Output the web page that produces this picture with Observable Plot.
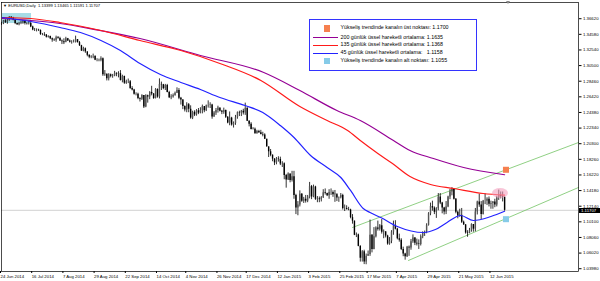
<!DOCTYPE html>
<html><head><meta charset="utf-8">
<script src="https://cdn.jsdelivr.net/npm/d3@7"></script>
<script src="https://cdn.jsdelivr.net/npm/@observablehq/plot@0.6"></script>
<style>
html,body{margin:0;padding:0;background:#fff;}
#wrap{position:relative;width:600px;height:281px;overflow:hidden;font-family:"Liberation Sans",Arial,sans-serif;}
#wrap svg{position:absolute;left:0;top:0;}
.ov{position:absolute;white-space:pre;line-height:1;color:#000;}
</style></head><body><div id="wrap"></div>
<script>
// ---- Daily EURUSD bars, 24 Jun 2014 .. 23 Jun 2015 (one value per bar) ----
const firstOpen = 1.3600;
const closes = [
1.3604,1.3645,1.3625,1.3645,1.3690,1.3680,1.3655,1.3610,1.3595,1.3610,
1.3615,1.3640,1.3610,1.3605,1.3610,1.3565,1.3525,1.3525,1.3525,1.3520,
1.3465,1.3465,1.3460,1.3430,1.3440,1.3410,1.3395,1.3390,1.3425,1.3415,
1.3380,1.3370,1.3360,1.3410,1.3380,1.3365,1.3365,1.3365,1.3400,1.3360,
1.3320,1.3250,1.3280,1.3240,1.3195,1.3170,1.3175,1.3180,1.3130,1.3130,
1.3130,1.3150,1.2940,1.2950,1.2890,1.2940,1.2920,1.2925,1.2960,1.2950,
1.2955,1.2865,1.2920,1.2830,1.2850,1.2850,1.2760,1.2740,1.2685,1.2685,
1.2630,1.2620,1.2670,1.2520,1.2665,1.2650,1.2710,1.2690,1.2630,1.2750,
1.2650,1.2815,1.2810,1.2760,1.2800,1.2710,1.2640,1.2650,1.2670,1.2700,
1.2735,1.2635,1.2610,1.2525,1.2480,1.2550,1.2490,1.2375,1.2450,1.2415,
1.2470,1.2440,1.2475,1.2525,1.2470,1.2535,1.2540,1.2545,1.2390,1.2440,
1.2475,1.2505,1.2465,1.2450,1.2475,1.2385,1.2310,1.2375,1.2285,1.2305,
1.2380,1.2445,1.2440,1.2465,1.2440,1.2500,1.2335,1.2295,1.2225,1.2230,
1.2170,1.2200,1.2185,1.2160,1.2155,1.2100,1.2000,1.1935,1.1890,1.1840,
1.1790,1.1840,1.1835,1.1775,1.1780,1.1625,1.1565,1.1645,1.1560,1.1610,
1.1365,1.1200,1.1240,1.1380,1.1290,1.1315,1.1290,1.1345,1.1480,1.1345,
1.1475,1.1315,1.1320,1.1310,1.1335,1.1400,1.1390,1.1360,1.1405,1.1405,
1.1375,1.1385,1.1330,1.1335,1.1365,1.1195,1.1195,1.1180,1.1175,1.1075,
1.1030,1.0845,1.0850,1.0700,1.0545,1.0630,1.0495,1.0570,1.0595,1.0845,
1.0660,1.0825,1.0940,1.0925,1.0970,1.0885,1.0890,1.0835,1.0730,1.0765,
1.0885,1.0970,1.0925,1.0800,1.0780,1.0660,1.0600,1.0565,1.0690,1.0680,
1.0760,1.0810,1.0740,1.0730,1.0725,1.0825,1.0870,1.0885,1.0975,1.1125,
1.1220,1.1200,1.1145,1.1190,1.1345,1.1265,1.1200,1.1150,1.1215,1.1345,
1.1410,1.1445,1.1315,1.1145,1.1095,1.1105,1.1015,1.0980,1.0875,1.0870,
1.0905,1.0985,1.0925,1.1150,1.1280,1.1240,1.1115,1.1290,1.1290,1.1315,
1.1250,1.1260,1.1280,1.1240,1.1335,1.1365,1.1350,1.13399,1.11707];
const highs = [
1.3625,1.3650,1.3660,1.3665,1.3700,1.3700,1.3690,1.3665,1.3615,1.3625,
1.3640,1.3650,1.3650,1.3620,1.3635,1.3630,1.3575,1.3545,1.3540,1.3535,
1.3525,1.3480,1.3490,1.3465,1.3450,1.3445,1.3420,1.3410,1.3445,1.3440,
1.3430,1.3395,1.3410,1.3430,1.3415,1.3395,1.3385,1.3395,1.3445,1.3395,
1.3375,1.3325,1.3300,1.3290,1.3210,1.3200,1.3190,1.3210,1.3190,1.3150,
1.3145,1.3175,1.3160,1.2995,1.2945,1.2955,1.2950,1.2945,1.2985,1.2965,
1.2980,1.2995,1.2935,1.2920,1.2870,1.2885,1.2865,1.2785,1.2750,1.2705,
1.2700,1.2640,1.2680,1.2670,1.2680,1.2675,1.2720,1.2790,1.2695,1.2760,
1.2755,1.2887,1.2845,1.2815,1.2815,1.2815,1.2725,1.2680,1.2690,1.2715,
1.2770,1.2760,1.2645,1.2615,1.2535,1.2575,1.2565,1.2535,1.2465,1.2470,
1.2485,1.2500,1.2510,1.2545,1.2510,1.2545,1.2600,1.2575,1.2555,1.2460,
1.2500,1.2530,1.2505,1.2475,1.2505,1.2480,1.2395,1.2455,1.2385,1.2325,
1.2410,1.2455,1.2465,1.2475,1.2490,1.2570,1.2515,1.2340,1.2315,1.2250,
1.2245,1.2215,1.2215,1.2215,1.2190,1.2170,1.2095,1.1995,1.1965,1.1895,
1.1845,1.1860,1.1870,1.1865,1.1805,1.1790,1.1640,1.1660,1.1645,1.1680,
1.1680,1.1380,1.1285,1.1425,1.1390,1.1340,1.1365,1.1365,1.1535,1.1495,
1.1500,1.1485,1.1350,1.1345,1.1350,1.1440,1.1450,1.1395,1.1440,1.1450,
1.1425,1.1430,1.1370,1.1345,1.1390,1.1380,1.1240,1.1230,1.1210,1.1185,
1.1115,1.1030,1.0875,1.0860,1.0710,1.0645,1.0650,1.0600,1.0640,1.1043,
1.0855,1.0945,1.0955,1.1030,1.0985,1.1050,1.0915,1.0890,1.0845,1.0815,
1.0905,1.1030,1.1035,1.0935,1.0860,1.0800,1.0690,1.0610,1.0700,1.0705,
1.0790,1.0850,1.0815,1.0795,1.0785,1.0850,1.0890,1.0900,1.0995,1.1140,
1.1265,1.1290,1.1215,1.1205,1.1390,1.1390,1.1275,1.1210,1.1285,1.1355,
1.1445,1.1467,1.1445,1.1325,1.1160,1.1185,1.1195,1.1030,1.0985,1.0905,
1.0935,1.0995,1.0985,1.1195,1.1290,1.1380,1.1285,1.1300,1.1385,1.1335,
1.1345,1.1290,1.1285,1.1315,1.1355,1.1435,1.1410,1.1410,1.13465];
const lows = [
1.3585,1.3595,1.3610,1.3600,1.3640,1.3665,1.3645,1.3595,1.3585,1.3580,
1.3595,1.3600,1.3590,1.3590,1.3590,1.3555,1.3515,1.3505,1.3500,1.3505,
1.3455,1.3450,1.3440,1.3420,1.3420,1.3400,1.3365,1.3375,1.3365,1.3405,
1.3375,1.3335,1.3335,1.3365,1.3375,1.3355,1.3340,1.3355,1.3355,1.3355,
1.3310,1.3245,1.3240,1.3220,1.3175,1.3150,1.3150,1.3150,1.3125,1.3110,
1.3110,1.3110,1.2920,1.2920,1.2860,1.2860,1.2900,1.2895,1.2915,1.2915,
1.2900,1.2860,1.2835,1.2815,1.2815,1.2825,1.2750,1.2730,1.2675,1.2665,
1.2615,1.2585,1.2605,1.2500,1.2510,1.2570,1.2615,1.2665,1.2620,1.2625,
1.2635,1.2625,1.2735,1.2745,1.2735,1.2705,1.2630,1.2615,1.2635,1.2660,
1.2695,1.2615,1.2545,1.2485,1.2455,1.2445,1.2445,1.2360,1.2355,1.2395,
1.2400,1.2420,1.2430,1.2430,1.2445,1.2460,1.2505,1.2500,1.2360,1.2385,
1.2410,1.2440,1.2455,1.2420,1.2425,1.2370,1.2300,1.2275,1.2270,1.2245,
1.2280,1.2360,1.2395,1.2395,1.2415,1.2410,1.2330,1.2260,1.2220,1.2220,
1.2165,1.2165,1.2175,1.2155,1.2130,1.2095,1.1995,1.1860,1.1870,1.1805,
1.1755,1.1765,1.1800,1.1755,1.1730,1.1570,1.1460,1.1560,1.1530,1.1540,
1.1315,1.1115,1.1100,1.1215,1.1275,1.1260,1.1265,1.1270,1.1320,1.1310,
1.1335,1.1300,1.1270,1.1270,1.1280,1.1325,1.1370,1.1350,1.1315,1.1365,
1.1340,1.1275,1.1285,1.1275,1.1320,1.1175,1.1155,1.1175,1.1165,1.1060,
1.0990,1.0840,1.0815,1.0695,1.0495,1.0495,1.0462,1.0460,1.0570,1.0570,
1.0615,1.0655,1.0810,1.0900,1.0900,1.0860,1.0800,1.0810,1.0715,1.0715,
1.0735,1.0845,1.0915,1.0785,1.0755,1.0645,1.0565,1.0520,1.0555,1.0570,
1.0650,1.0740,1.0710,1.0705,1.0660,1.0705,1.0800,1.0830,1.0865,1.0965,
1.1100,1.1160,1.1115,1.1065,1.1165,1.1245,1.1125,1.1110,1.1115,1.1205,
1.1310,1.1360,1.1305,1.1125,1.1060,1.1080,1.1000,1.0975,1.0860,1.0819,
1.0865,1.0885,1.0885,1.0890,1.1110,1.1210,1.1050,1.1110,1.1245,1.1235,
1.1215,1.1185,1.1185,1.1205,1.1215,1.1300,1.1320,1.1280,1.11591];

// ---- moving averages (bar index, value) ----
const ema45Bars = [0.5,15,30,40.5,51,61,71,81.5,92,102,112,125,134,143,150,158.5,167,174,179,185.5,189,194.5,203,216.5,222.5,228.5,235.5,242,251,258];
const ema45 = [1.3688,1.3636,1.3558,1.3492,1.3388,1.3257,1.3088,1.2944,1.2840,1.2748,1.2644,1.2539,1.2448,1.2278,1.2122,1.1886,1.1730,1.1599,1.1430,1.1195,1.1142,1.1077,1.0960,1.0881,1.0920,1.1012,1.1103,1.1038,1.1090,1.1158];
const ema135Bars = [0.5,15,30,51,71,92,112,133,153,167,177.5,184,193,200.5,209.5,220,232,247,258];
const ema135 = [1.3688,1.3675,1.3623,1.3518,1.3388,1.3257,1.3088,1.2866,1.2526,1.2343,1.2213,1.2082,1.1913,1.1782,1.1612,1.1508,1.1456,1.1390,1.1368];
const ema200Bars = [0.5,15,30,48,71,102,134.5,153,172,184,201,209.5,221.5,237,258];
const ema200 = [1.3675,1.3649,1.3610,1.3531,1.3414,1.3192,1.2970,1.2735,1.2474,1.2343,1.2082,1.1952,1.1847,1.1730,1.1635];

// ---- rising channel lines ----
const upperChannelBars = [180, 295.9], upperChannel = [1.0947, 1.2056];
const lowerChannelBars = [208.7, 295.9], lowerChannel = [1.0516, 1.1469];

// ---- annotations ----
const hiBoxBars = [0.5, 15.4], hiBoxPrices = [1.3610, 1.3740];
const pinkSpotBars = [251.8, 260], pinkSpotPrices = [1.1325, 1.1456];
const markerBars = [258.7, 258.7], markerPrices = [1.1700, 1.1055], markerColors = ["#f6804f", "#86cbe8"];

// ---- axes ----
const dateLabels = ["24 Jun 2014","16 Jul 2014","7 Aug 2014","29 Aug 2014","22 Sep 2014","14 Oct 2014","4 Nov 2014","26 Nov 2014","17 Dec 2014","12 Jan 2015","3 Feb 2015","25 Feb 2015","17 Mar 2015","7 Apr 2015","29 Apr 2015","21 May 2015","12 Jun 2015"];
const dateLabelBars = [0,16,32,48,64,80,95,111,126,142,158,174,188,203,219,235,251];
const priceTicks = [1.36620,1.34580,1.32540,1.30500,1.28460,1.26420,1.24380,1.22340,1.20300,1.18260,1.16220,1.14180,1.12140,1.10100,1.08060,1.06020,1.03980];

// ---- legend ----
const legendLabels = ["Yükseliş trendinde kanalın üst noktası: ","200 günlük üssel hareketli ortalama: ","135 günlük üssel hareketli ortalama: ","45 günlük üssel hareketli ortalama:   ","Yükseliş trendinde kanalın alt noktası: "];
const legendValues = ["1.1700","1.1635","1.1368","1.1158","1.1055"];
const legendKinds = ["square","line","line","line","square"];
const legendColors = ["#f6804f","#950095","#ff1a1a","#2222ff","#86cbe8"];
const headerText = "EURUSD,Daily  1.13399 1.13465 1.11591 1.11707";

// ---- build tables ----
const bars = closes.map((c, i) => ({i, open: i ? closes[i-1] : firstOpen, close: c, high: highs[i], low: lows[i]}));
const up = bars.filter(d => d.close >= d.open), down = bars.filter(d => d.close < d.open);
const pts = (xs, ys) => xs.map((x, k) => ({i: x, p: ys[k]}));
const lastClose = closes[closes.length - 1];
const labelOf = new Map(dateLabelBars.map((b, k) => [b, dateLabels[k]]));

const plot = Plot.plot({
  width: 600, height: 281,
  marginLeft: 1, marginRight: 22, marginTop: 2, marginBottom: 10,
  style: {fontFamily: "'Liberation Sans', Arial, sans-serif", fontSize: "4.3px", background: "transparent", color: "#000", overflow: "visible"},
  x: {domain: [0, 295.9], axis: null},
  y: {domain: [1.0372, 1.3884], axis: null},
  marks: [
    Plot.rect([{x1: hiBoxBars[0], x2: hiBoxBars[1], y1: hiBoxPrices[0], y2: hiBoxPrices[1]}], {x1: "x1", x2: "x2", y1: "y1", y2: "y2", fill: "#a6dce6"}),
    Plot.ruleY([lastClose], {stroke: "#c6c6c6", strokeWidth: 0.8}),
    Plot.line(pts(upperChannelBars, upperChannel), {x: "i", y: "p", stroke: "#74c464", strokeWidth: 0.8}),
    Plot.line(pts(lowerChannelBars, lowerChannel), {x: "i", y: "p", stroke: "#74c464", strokeWidth: 0.8}),
    Plot.ruleX(bars, {x: "i", y1: "low", y2: "high", stroke: "#000", strokeWidth: 0.8}),
    Plot.ruleX(up, {x: "i", y1: "open", y2: "close", stroke: "#555", strokeWidth: 1.4}),
    Plot.ruleX(down, {x: "i", y1: "open", y2: "close", stroke: "#000", strokeWidth: 1.4}),
    Plot.line(pts(ema200Bars, ema200), {x: "i", y: "p", stroke: legendColors[1], strokeWidth: 1.2, curve: "monotone-x"}),
    Plot.line(pts(ema135Bars, ema135), {x: "i", y: "p", stroke: legendColors[2], strokeWidth: 1.2, curve: "monotone-x"}),
    Plot.line(pts(ema45Bars, ema45), {x: "i", y: "p", stroke: legendColors[3], strokeWidth: 1.2, curve: "monotone-x"}),
    Plot.rect([{x1: pinkSpotBars[0], x2: pinkSpotBars[1], y1: pinkSpotPrices[0], y2: pinkSpotPrices[1]}], {x1: "x1", x2: "x2", y1: "y1", y2: "y2", rx: 8, ry: 5, fill: "#f4a0be", fillOpacity: 0.6}),
    Plot.dot(markerBars.map((b, k) => ({i: b, p: markerPrices[k], c: markerColors[k]})), {x: "i", y: "p", symbol: "square", r: 3.4, fill: d => d.c, stroke: null}),
    Plot.axisY({anchor: "right", ticks: priceTicks, tickFormat: d => d.toFixed(5), tickSize: 2.5, tickPadding: 2, fontSize: 4.3, dy: -0.8}),
    Plot.axisX({ticks: dateLabelBars, tickFormat: d => labelOf.get(d), textAnchor: "start", dx: -1, tickSize: 2, tickPadding: 1, fontSize: 4.3}),
    Plot.frame({stroke: "#000", strokeWidth: 0.7})
  ]
});
const wrap = document.getElementById("wrap");
wrap.appendChild(plot);

function ov(html, css) { const d = document.createElement("div"); d.className = "ov"; d.innerHTML = html; Object.assign(d.style, css); wrap.appendChild(d); return d; }

// header
ov("\u25BC " + headerText, {left: "3px", top: "4px", fontSize: "4.1px"});
// chart shift marker
ov("", {left: "506px", top: "1px", width: "0", height: "0", borderLeft: "2px solid transparent", borderRight: "2px solid transparent", borderTop: "3px solid #888"});

// price tag on the right axis
const yTag = plot.scale("y").apply(lastClose);
ov(lastClose.toFixed(5), {left: "579px", top: (yTag - 2.2) + "px", width: "21px", height: "5.6px", background: "#000", color: "#fff", fontSize: "4.3px", lineHeight: "5.6px", paddingLeft: "2px", boxSizing: "border-box"});

// legend box
ov("", {left: "309px", top: "19px", width: "168px", height: "52px", border: "1px solid #3333ff", background: "#fff", boxSizing: "border-box"});
const rowY = [28.3, 37.7, 45.2, 53.2, 61];
legendLabels.forEach((t, k) => {
  if (legendKinds[k] === "square") ov("", {left: "323.5px", top: (rowY[k] - 3.3) + "px", width: "6.6px", height: "6.6px", background: legendColors[k]});
  else ov("", {left: "313px", top: (rowY[k] - 0.6) + "px", width: "25px", height: "1.2px", background: legendColors[k]});
  ov(t + legendValues[k], {left: "340.5px", top: (rowY[k] - 3) + "px", fontSize: "5.3px"});
});
</script></body></html>
